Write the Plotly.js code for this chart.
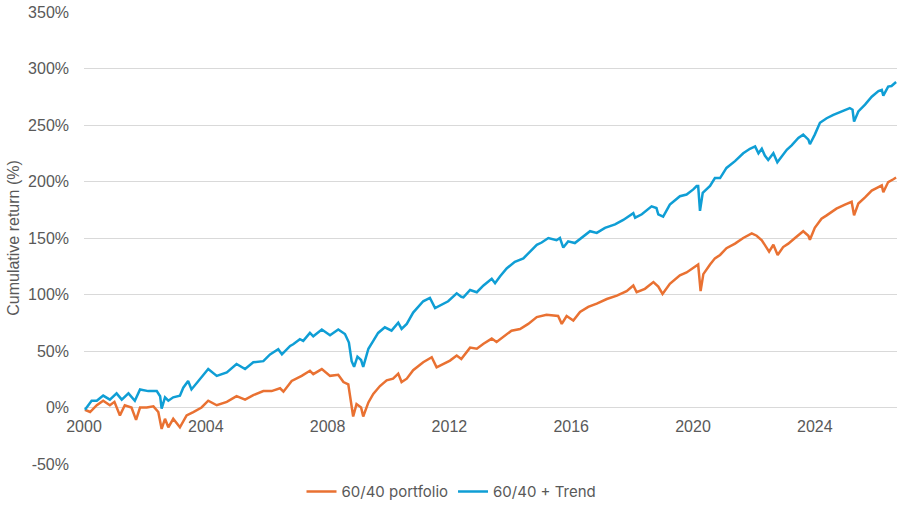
<!DOCTYPE html>
<html>
<head>
<meta charset="utf-8">
<script src="https://cdn.plot.ly/plotly-3.0.1.min.js"></script>
<style>
  html, body { margin: 0; padding: 0; background: #fff; }
  #chart { width: 903px; height: 505px; }
</style>
</head>
<body>
<div id="chart"></div>
<script>
/*** DATA (decimal years / cumulative return %) ***/

// 60/40 portfolio
const portYears = [
  2000.03, 2000.20, 2000.42, 2000.63, 2000.85, 2001.00, 2001.18, 2001.34, 2001.56, 2001.71,
  2001.84, 2002.06, 2002.28, 2002.44, 2002.55, 2002.66, 2002.77, 2002.93, 2003.15, 2003.37,
  2003.59, 2003.86, 2004.08, 2004.36, 2004.69, 2005.01, 2005.29, 2005.56, 2005.89, 2006.16,
  2006.44, 2006.55, 2006.82, 2007.15, 2007.42, 2007.53, 2007.81, 2008.08, 2008.35, 2008.52,
  2008.68, 2008.79, 2008.84, 2008.95, 2009.10, 2009.17, 2009.34, 2009.50, 2009.72, 2009.94,
  2010.15, 2010.32, 2010.43, 2010.60, 2010.81, 2011.14, 2011.42, 2011.58, 2011.80, 2012.02,
  2012.24, 2012.39, 2012.68, 2012.90, 2013.12, 2013.39, 2013.55, 2013.77, 2014.04, 2014.32,
  2014.59, 2014.87, 2015.19, 2015.57, 2015.69, 2015.85, 2016.07, 2016.29, 2016.56, 2016.84,
  2017.17, 2017.50, 2017.82, 2018.04, 2018.15, 2018.42, 2018.70, 2018.86, 2019.00, 2019.24,
  2019.57, 2019.79, 2020.07, 2020.17, 2020.25, 2020.34, 2020.56, 2020.72, 2020.89, 2021.10,
  2021.38, 2021.65, 2021.93, 2022.09, 2022.26, 2022.40, 2022.50, 2022.64, 2022.78, 2022.96,
  2023.13, 2023.35, 2023.62, 2023.79, 2023.84, 2024.00, 2024.22, 2024.39, 2024.71, 2024.99,
  2025.21, 2025.29, 2025.43, 2025.65, 2025.87, 2026.09, 2026.20, 2026.25, 2026.41, 2026.58,
  2026.67
];
const portReturns = [
  -2, -4, 2, 6, 2, 5, -7, 2, 0, -11,
  0, 0, 1, -4, -19, -10, -17.5, -10, -17.5, -7,
  -4, 0, 6, 2, 5, 10, 7, 11, 14.5, 14.5,
  17, 14, 23.5, 28, 32.5, 29.5, 34, 28, 29, 22.5,
  20.5, -0.5, -8, 3, 0, -8, 4.5, 12, 19, 24,
  25.5, 30, 22.5, 25.5, 33, 40, 44.5, 35.5, 38.5, 41.5,
  46, 43, 53, 52, 56.5, 61, 58, 62.5, 68, 69.5,
  74, 80, 82, 81, 74, 81, 77, 84.5, 89, 92,
  96, 99, 103, 108, 102, 105, 111, 107, 100.5, 109.5,
  117, 119.5, 125, 126.5, 103, 118, 126.5, 132, 135, 141,
  145, 150, 154, 152, 148, 142, 138, 144, 135, 142,
  145, 150, 156, 152, 148.5, 159, 167, 170, 176, 179.5,
  182, 170, 180.5, 186, 192, 195, 196.5, 190.5, 199.5, 202,
  203.5
];

// 60/40 + Trend
const trendYears = [
  2000.03, 2000.25, 2000.42, 2000.63, 2000.85, 2001.07, 2001.24, 2001.46, 2001.67, 2001.84,
  2002.11, 2002.39, 2002.50, 2002.55, 2002.66, 2002.77, 2002.93, 2003.15, 2003.26, 2003.42,
  2003.53, 2003.81, 2004.08, 2004.36, 2004.69, 2005.01, 2005.29, 2005.56, 2005.89, 2006.11,
  2006.38, 2006.50, 2006.77, 2006.87, 2007.09, 2007.20, 2007.42, 2007.53, 2007.81, 2008.08,
  2008.35, 2008.57, 2008.70, 2008.79, 2008.87, 2008.98, 2009.10, 2009.17, 2009.34, 2009.50,
  2009.66, 2009.88, 2010.10, 2010.32, 2010.43, 2010.60, 2010.81, 2011.14, 2011.36, 2011.53,
  2011.75, 2011.96, 2012.24, 2012.39, 2012.46, 2012.68, 2012.90, 2013.12, 2013.39, 2013.50,
  2013.66, 2013.88, 2014.15, 2014.43, 2014.65, 2014.87, 2015.03, 2015.25, 2015.52, 2015.63,
  2015.74, 2015.90, 2016.12, 2016.34, 2016.62, 2016.84, 2017.11, 2017.44, 2017.71, 2018.04,
  2018.10, 2018.32, 2018.64, 2018.80, 2018.86, 2019.02, 2019.24, 2019.57, 2019.79, 2020.01,
  2020.12, 2020.17, 2020.23, 2020.32, 2020.56, 2020.72, 2020.89, 2021.10, 2021.38, 2021.65,
  2021.87, 2022.04, 2022.15, 2022.26, 2022.36, 2022.47, 2022.64, 2022.77, 2022.91, 2023.08,
  2023.24, 2023.46, 2023.62, 2023.79, 2023.84, 2024.00, 2024.17, 2024.39, 2024.61, 2024.88,
  2025.15, 2025.24, 2025.29, 2025.43, 2025.65, 2025.87, 2026.09, 2026.20, 2026.25, 2026.41,
  2026.52, 2026.67
];
const trendReturns = [
  -2, 6, 6, 10.5, 7, 12.5, 7, 12.5, 6, 16,
  14.5, 14.5, 10, -1, 9, 6, 9, 10.5, 17.5, 23.5,
  16, 25, 34, 28, 31, 38.5, 34, 40, 41, 47,
  51.5, 47, 54.5, 56, 60.5, 59, 66, 63, 69, 64,
  69, 65, 57.5, 41, 36, 45, 42, 36, 52, 59,
  66, 71, 68, 75, 69.5, 74, 84, 94, 97, 88,
  91, 94, 101, 98, 97.5, 104, 102, 108, 114, 110,
  116, 123, 129, 132, 138, 144, 146, 150, 148, 150,
  141.5, 147, 145.5, 150, 156, 154.5, 159, 162, 166, 172,
  168, 171, 178, 176.5, 171, 169, 179.5, 187, 188.5, 193,
  196, 196, 174, 190, 196, 203, 203, 212, 218, 225,
  229, 231, 225, 229, 223, 219, 225, 217, 222, 228,
  232, 238.5, 241.5, 237, 233, 241.5, 252, 256, 259, 262,
  265, 263.5, 253, 262, 268, 275, 280, 281, 276, 284,
  284.5, 288
];

const seriesNames = ['60/40 portfolio', '60/40 + Trend'];
const seriesColors = ['#E97132', '#0F9ED5'];

// y tick labels use a plain hyphen, as in the original
const yTickVals = [-50, 0, 50, 100, 150, 200, 250, 300, 350];
const yTickText = yTickVals.map(v => v + '%');

/*** PLOT ***/
const textColor = '#595959';
const gridColor = '#D9D9D9';

const traces = seriesNames.map((name, i) => ({
  x: i === 0 ? portYears : trendYears,
  y: i === 0 ? portReturns : trendReturns,
  name: name,
  type: 'scatter',
  mode: 'lines',
  line: { color: seriesColors[i], width: 2.5 }
}));

const layout = {
  width: 903,
  height: 505,
  margin: { l: 84, r: 6, t: 12, b: 41 },
  paper_bgcolor: '#ffffff',
  plot_bgcolor: '#ffffff',
  font: { family: 'Liberation Sans, Arial, sans-serif', size: 16, color: textColor },
  showlegend: true,
  legend: {
    orientation: 'h',
    xref: 'container',
    yref: 'container',
    x: 0.5,
    xanchor: 'center',
    y: 0.026,
    yanchor: 'middle',
    itemwidth: 30,
    font: { family: 'Inter, Liberation Sans, sans-serif', size: 15, color: textColor }
  },
  xaxis: {
    range: [2000, 2026.7],
    tick0: 2000,
    dtick: 4,
    showgrid: false,
    zeroline: false,
    showline: false,
    ticks: '',
    anchor: 'free',
    position: 0.125, // sits on the 0% line, like the Excel category axis
    ticklabelstandoff: 7,
    tickfont: { size: 16, color: textColor }
  },
  yaxis: {
    range: [-50, 350],
    tickmode: 'array',
    tickvals: yTickVals,
    ticktext: yTickText,
    showgrid: true,
    gridcolor: gridColor,
    gridwidth: 1,
    zeroline: true,
    zerolinecolor: gridColor,
    zerolinewidth: 1,
    showline: false,
    ticks: '',
    ticklabelstandoff: 14,
    tickfont: { size: 16, color: textColor },
    title: { text: 'Cumulative return (%)', standoff: 4, font: { size: 16, color: textColor } }
  }
};

Plotly.newPlot('chart', traces, layout, { displayModeBar: false, staticPlot: true });
</script>
</body>
</html>
